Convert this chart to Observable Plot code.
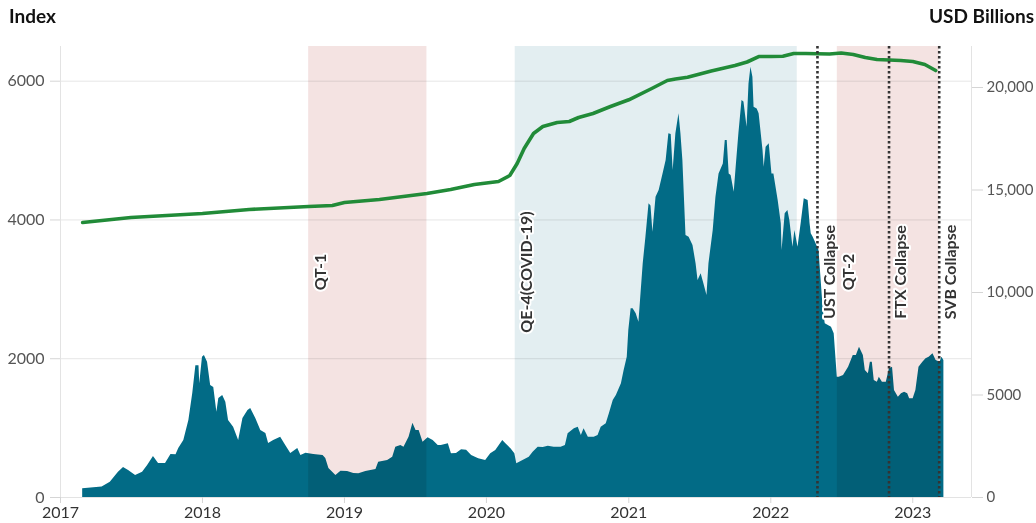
<!DOCTYPE html>
<html><head><meta charset="utf-8">
<script src="https://cdn.jsdelivr.net/npm/d3@7"></script>
<script src="https://cdn.jsdelivr.net/npm/@observablehq/plot@0.6"></script>
<style>
body{margin:0;background:#fff;font-family:Lato,sans-serif;}
#wrap{position:relative;width:1036px;height:523px;overflow:hidden;}
.t{position:absolute;top:4px;font-weight:700;font-size:19px;color:#111;}
</style></head><body><div id="wrap"><div class="t" style="left:9px">Index</div><div class="t" style="right:2px">USD Billions</div></div>
<script>
// Crypto index (left axis)
const indexDates = [
"2017-02-27","2017-04-18","2017-05-09","2017-05-30","2017-06-12","2017-06-25","2017-07-13","2017-07-31","2017-08-13","2017-08-28",
"2017-09-10","2017-09-28","2017-10-12","2017-10-25","2017-11-01","2017-11-14","2017-11-27","2017-12-07","2017-12-15","2017-12-23",
"2017-12-25","2018-01-01","2018-01-06","2018-01-14","2018-01-22","2018-01-30","2018-02-07","2018-02-12","2018-02-22","2018-03-02",
"2018-03-09","2018-03-22","2018-04-04","2018-04-15","2018-04-28","2018-05-05","2018-05-18","2018-05-31","2018-06-13","2018-06-20",
"2018-07-03","2018-07-21","2018-08-03","2018-08-16","2018-09-03","2018-09-11","2018-09-24","2018-10-14","2018-11-07","2018-11-14",
"2018-11-22","2018-12-10","2018-12-23","2019-01-09","2019-01-25","2019-02-07","2019-02-25","2019-03-23","2019-03-30","2019-04-22",
"2019-05-05","2019-05-13","2019-05-26","2019-06-03","2019-06-16","2019-06-26","2019-07-04","2019-07-12","2019-07-22","2019-08-04",
"2019-08-17","2019-08-30","2019-09-07","2019-09-25","2019-10-03","2019-10-16","2019-10-29","2019-11-11","2019-11-24","2019-12-12",
"2019-12-30","2020-01-12","2020-01-25","2020-02-12","2020-02-20","2020-03-04","2020-03-14","2020-03-19","2020-04-04","2020-04-20",
"2020-04-30","2020-05-13","2020-05-26","2020-06-08","2020-06-23","2020-07-11","2020-07-22","2020-07-29","2020-08-14","2020-08-24",
"2020-09-01","2020-09-08","2020-09-19","2020-10-04","2020-10-14","2020-10-22","2020-11-04","2020-11-12","2020-11-22","2020-11-30",
"2020-12-13","2020-12-20","2020-12-28","2021-01-01","2021-01-07","2021-01-12","2021-01-20","2021-01-27","2021-02-07","2021-02-14",
"2021-02-22","2021-02-27","2021-03-04","2021-03-12","2021-03-20","2021-03-30","2021-04-07","2021-04-14","2021-04-20","2021-04-25",
"2021-05-02","2021-05-10","2021-05-15","2021-05-20","2021-05-28","2021-06-05","2021-06-15","2021-06-23","2021-06-28","2021-07-06",
"2021-07-13","2021-07-21","2021-07-26","2021-08-06","2021-08-13","2021-08-21","2021-09-01","2021-09-06","2021-09-11","2021-09-16",
"2021-09-21","2021-09-29","2021-10-04","2021-10-11","2021-10-19","2021-10-24","2021-11-01","2021-11-06","2021-11-11","2021-11-16",
"2021-11-19","2021-11-27","2021-12-02","2021-12-12","2021-12-15","2021-12-20","2021-12-28","2022-01-04","2022-01-09","2022-01-20",
"2022-01-28","2022-01-30","2022-02-07","2022-02-14","2022-02-19","2022-02-27","2022-03-04","2022-03-12","2022-03-20","2022-03-28",
"2022-04-07","2022-04-12","2022-04-15","2022-04-20","2022-04-28","2022-05-05","2022-05-16","2022-05-21","2022-05-29","2022-06-06",
"2022-06-13","2022-06-21","2022-06-26","2022-07-07","2022-07-20","2022-08-01","2022-08-09","2022-08-17","2022-08-27","2022-09-01",
"2022-09-09","2022-09-14","2022-09-19","2022-09-24","2022-10-02","2022-10-07","2022-10-15","2022-10-25","2022-11-02","2022-11-10",
"2022-11-15","2022-11-25","2022-12-03","2022-12-11","2022-12-19","2022-12-24","2023-01-02","2023-01-09","2023-01-17","2023-01-27",
"2023-02-04","2023-02-12","2023-02-22","2023-03-02","2023-03-12","2023-03-17","2023-03-22"];
const indexValues = [
125,150,220,365,432,390,317,365,461,590,
490,490,620,615,706,821,1110,1500,1900,1900,
1640,2020,2046,1950,1614,1585,1230,1426,1470,1373,
1110,1013,821,1138,1254,1282,1138,965,922,778,
821,869,750,634,706,605,638,620,605,562,
418,317,379,374,346,341,374,403,509,533,
581,725,750,725,869,1071,965,965,797,860,
821,750,750,774,630,635,687,680,605,558,
533,630,677,821,774,702,630,486,533,581,
653,725,720,740,725,725,750,918,990,1013,
893,990,869,869,893,1013,1062,1206,1398,1470,
1638,1830,2022,2406,2719,2719,2650,2526,3367,3751,
4232,4200,3823,4327,4424,4664,4856,5241,5230,4712,
5241,5529,5241,4856,3775,3750,3631,3367,3127,3223,
3079,2911,3367,3847,4327,4664,4808,5144,5144,4664,
4640,4400,4760,5241,5721,5700,5336,5961,6201,6057,
5625,5600,5529,5000,4760,5048,5097,4664,4664,4280,
3944,3559,4088,4136,3992,3607,3847,3607,3944,4304,
4280,3944,3800,3751,3650,3559,2695,2503,2480,2454,
2359,1734,1734,1758,1878,2046,2046,2166,2046,1830,
1783,1950,1950,1686,1662,1734,1662,1662,1855,1878,
1542,1446,1494,1518,1494,1422,1422,1542,1878,1950,
1998,2022,2070,1974,1950,2022,1974];

// Money supply (right axis, USD billions)
const m2Dates = ["2017-02-27","2017-07-01","2018-01-01","2018-05-01","2018-10-01","2018-12-01","2019-01-01","2019-04-01","2019-08-01","2019-10-01",
"2019-12-01","2020-02-01","2020-03-01","2020-03-20","2020-04-07","2020-05-01","2020-05-25","2020-07-01","2020-08-01","2020-08-25",
"2020-10-01","2020-11-15","2021-01-01","2021-03-01","2021-04-10","2021-05-01","2021-06-01","2021-08-01","2021-10-01","2021-11-01",
"2021-12-01","2022-01-01","2022-02-01","2022-03-01","2022-04-01","2022-05-01","2022-06-01","2022-07-01","2022-08-01","2022-09-01",
"2022-10-01","2022-11-01","2022-12-01","2023-01-01","2023-02-01","2023-03-01"];
const m2Values = [13415,13658,13854,14049,14195,14244,14390,14536,14829,15024,
15268,15414,15707,16293,17025,17756,18098,18293,18341,18536,
18732,19073,19400,19951,20341,20414,20503,20805,21073,21244,
21512,21512,21527,21658,21658,21644,21634,21683,21610,21463,
21366,21342,21317,21268,21122,20829];

// Policy periods
const periodNames = ["QT-1","QE-4(COVID-19)","QT-2"];
const periodStarts = ["2018-10-01","2020-03-15","2022-06-21"];
const periodEnds = ["2019-08-01","2022-03-10","2023-03-10"];
const periodKinds = ["QT","QE","QT"];

// Events
const eventNames = ["UST Collapse","FTX Collapse","SVB Collapse"];
const eventDates = ["2022-05-01","2022-11-01","2023-03-10"];

const leftTicks = [0,2000,4000,6000];
const rightTicks = [0,5000,10000,15000,20000];
const yearTicks = ["2017","2018","2019","2020","2021","2022","2023"];
const leftMax = 6500, rightMax = 22000;
const k = leftMax / rightMax;

const P = s => new Date(s + "T00:00:00Z");
const index = indexDates.map((d,i)=>({date:P(d), value:indexValues[i]}));
const m2 = m2Dates.map((d,i)=>({date:P(d), value:m2Values[i]}));
const periods = periodNames.map((n,i)=>({name:n, start:P(periodStarts[i]), end:P(periodEnds[i]), kind:periodKinds[i]}));
const events = eventNames.map((n,i)=>({name:n, date:P(eventDates[i])}));
const labels = [...periods.map(p=>({name:p.name, date:p.start})), ...events];
const domainX = [P("2017-01-01"), P("2023-06-01")];
const fmtR = v => { v = Math.round(v/k); return v >= 10000 ? d3.format(",")(v) : String(v); };

const chart = Plot.plot({
  width:1036, height:523,
  marginTop:46, marginBottom:26, marginLeft:60, marginRight:65,
  style:{fontFamily:"Lato, sans-serif", fontSize:"16px", background:"transparent", overflow:"visible"},
  x:{type:"utc", domain:domainX, label:null},
  y:{domain:[0,leftMax], label:null},
  marks:[
    Plot.ruleY(leftTicks.filter(d=>d>0), {stroke:"#e6e6e6", strokeWidth:1}),
    Plot.rect(periods.filter(p=>p.kind==="QE"), {x1:"start", x2:"end", fill:"#e3eef1", mixBlendMode:"multiply"}),
    Plot.areaY(index, {x:"date", y:"value", fill:"#026b86"}),
    Plot.rect(periods.filter(p=>p.kind==="QT"), {x1:"start", x2:"end", fill:"#f4e3e2", mixBlendMode:"multiply"}),
    Plot.ruleX(domainX, {stroke:"#e3e3e3"}),
    Plot.ruleY([0], {stroke:"#e3e3e3"}),
    Plot.lineY(m2, {x:"date", y:d=>d.value*k, stroke:"#218b38", strokeWidth:3.6}),
    Plot.ruleX(events, {x:"date", stroke:"#333", strokeWidth:2.6, strokeDasharray:"2.6,2.4"}),
    Plot.text(labels, {x:"date", frameAnchor:"middle", rotate:-90, dx:12, text:"name", fontWeight:700, fontSize:16, fill:"#333", stroke:"white", strokeWidth:4}),
    Plot.axisX(yearTicks.map(y=>P(y+"-01-01")), {tickFormat:d3.utcFormat("%Y"), tickSize:6, tickPadding:3, stroke:"#d5d5d5", fill:"#333", fontSize:16, label:null}),
    Plot.axisY(leftTicks, {anchor:"left", tickSize:10, tickPadding:6, stroke:"#d5d5d5", fill:"#555", fontSize:16, tickFormat:d=>String(d), label:null}),
    Plot.axisY(rightTicks.map(d=>d*k), {anchor:"right", tickSize:11, tickPadding:4, stroke:"#d5d5d5", fill:"#555", fontSize:15, tickFormat:fmtR, label:null})
  ]
});
chart.style.position = "absolute";
chart.style.left = "0px";
chart.style.top = "0px";
document.getElementById("wrap").appendChild(chart);
</script>
</body></html>
